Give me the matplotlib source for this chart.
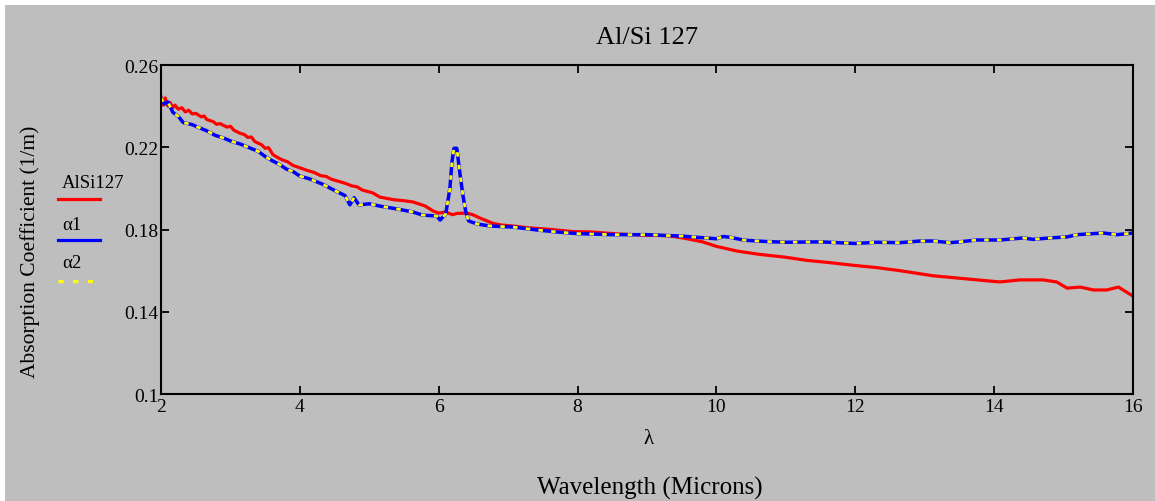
import matplotlib.pyplot as plt
from matplotlib.lines import Line2D
from matplotlib.patches import Rectangle

plt.rcParams['font.family'] = ['Liberation Serif', 'DejaVu Serif']

# AlSi127 measured absorption
alsi_x = [2.0, 2.03, 2.06, 2.1, 2.13, 2.17, 2.2, 2.25, 2.3, 2.35, 2.4, 2.45, 2.5, 2.58,
          2.62, 2.66, 2.75, 2.8, 2.85, 2.95, 3.0, 3.05, 3.14, 3.2, 3.25, 3.3, 3.35, 3.45,
          3.5, 3.55, 3.61, 3.68, 3.75, 3.82, 3.9, 4.0, 4.1, 4.2, 4.3, 4.38, 4.45, 4.58,
          4.65, 4.75, 4.82, 4.9, 5.05, 5.15, 5.35, 5.5, 5.63, 5.8, 5.92, 6.0, 6.1, 6.2,
          6.26, 6.4, 6.49, 6.6, 6.78, 6.9, 7.07, 7.3, 7.56, 7.93, 8.2, 8.6, 9.0, 9.3, 9.5,
          9.8, 10.0, 10.3, 10.6, 11.0, 11.3, 11.6, 12.0, 12.3, 12.64, 13.12, 13.6, 14.08,
          14.37, 14.7, 14.9, 15.05, 15.24, 15.43, 15.62, 15.79, 15.98]
alsi_y = [0.2445, 0.2405, 0.2440, 0.2400, 0.2418, 0.2392, 0.2405, 0.2385, 0.2392, 0.2372,
          0.2380, 0.2362, 0.2365, 0.2348, 0.2352, 0.2335, 0.2325, 0.2312, 0.2315, 0.2298,
          0.2302, 0.2283, 0.2268, 0.2262, 0.2248, 0.2250, 0.2228, 0.2212, 0.2195, 0.2198,
          0.2165, 0.2150, 0.2138, 0.2130, 0.2112, 0.2100, 0.2088, 0.2078, 0.2062, 0.2058,
          0.2045, 0.2032, 0.2025, 0.2012, 0.2008, 0.1992, 0.1978, 0.1958, 0.1945, 0.1940,
          0.1934, 0.1915, 0.1890, 0.1880, 0.1885, 0.1872, 0.1878, 0.1880, 0.1872, 0.1855,
          0.1830, 0.1822, 0.1817, 0.1808, 0.1802, 0.1790, 0.1788, 0.1778, 0.1772, 0.1770,
          0.1760, 0.1740, 0.1718, 0.1695, 0.1680, 0.1665, 0.1650, 0.1640, 0.1625, 0.1615,
          0.1600, 0.1575, 0.1560, 0.1545, 0.1555, 0.1555, 0.1545, 0.1515, 0.1520, 0.1506,
          0.1506, 0.1520, 0.1480]

# model curves (alpha2 sits right on top of alpha1)
a_x = [2.0, 2.05, 2.1, 2.17, 2.25, 2.32, 2.45, 2.55, 2.66, 2.78, 2.9, 3.02, 3.14, 3.27,
       3.4, 3.5, 3.61, 3.7, 3.8, 3.9, 4.0, 4.15, 4.33, 4.5, 4.65, 4.72, 4.78, 4.85, 5.0,
       5.15, 5.4, 5.63, 5.77, 5.97, 6.02, 6.1, 6.16, 6.19, 6.22, 6.26, 6.31, 6.35, 6.39,
       6.43, 6.55, 6.74, 7.07, 7.41, 7.7, 8.0, 8.5, 9.0, 9.5, 10.0, 10.1, 10.2, 10.4,
       10.7, 11.0, 11.5, 12.0, 12.3, 12.64, 12.93, 13.12, 13.36, 13.5, 13.75, 14.08,
       14.42, 14.56, 14.8, 15.05, 15.19, 15.57, 15.77, 16.0]
a1_y = [0.244, 0.241, 0.242, 0.237, 0.235, 0.232, 0.231, 0.2295, 0.228, 0.2258, 0.2245,
        0.2228, 0.2216, 0.2198, 0.218, 0.2155, 0.2133, 0.2118, 0.2095, 0.2082, 0.206,
        0.2045, 0.202, 0.199, 0.1965, 0.192, 0.1955, 0.192, 0.1925, 0.1914, 0.190,
        0.1885, 0.187, 0.1866, 0.1846, 0.1875, 0.1997, 0.2128, 0.2195, 0.2195, 0.206,
        0.1963, 0.1885, 0.1842, 0.1827, 0.1817, 0.1812, 0.1798, 0.1788, 0.178, 0.1775,
        0.1775, 0.1768, 0.1755, 0.1766, 0.1762, 0.1748, 0.1742, 0.1738, 0.174, 0.1732,
        0.1738, 0.1736, 0.1744, 0.1744, 0.1736, 0.174, 0.1749, 0.1749, 0.1759, 0.1752,
        0.1759, 0.1764, 0.1775, 0.1783, 0.1775, 0.1783]
a2_y = list(a1_y)

x_ticks = [2, 4, 6, 8, 10, 12, 14, 16]
y_ticks = [0.1, 0.14, 0.18, 0.22, 0.26]
y_labels = ['0.1', '0.14', '0.18', '0.22', '0.26']

bg = '#BEBEBE'
fig = plt.figure(figsize=(11.55, 5.02), dpi=100)
fig.patch.set_facecolor('white')
fig.patches.append(Rectangle((5 / 1155, 0), 1, 1 - 6 / 502, transform=fig.transFigure,
                             facecolor=bg, edgecolor='none', zorder=-10))

ax = fig.add_axes([0.1394, 0.2131, 0.8416, 0.6554])
ax.set_facecolor(bg)

ax.plot(alsi_x, alsi_y, color='#FF0000', lw=2.3, solid_joinstyle='round')
ax.plot(a_x, a1_y, color='#0000FF', lw=2.5, solid_joinstyle='round')
ax.plot(a_x, a2_y, color='#FFFF00', lw=2.0, dashes=(1.6, 3.0))

ax.set_xlim(2, 16)
ax.set_ylim(0.1, 0.26)
ax.set_xticks(x_ticks)
ax.set_xticklabels([str(t) for t in x_ticks])
ax.set_yticks(y_ticks)
ax.set_yticklabels(y_labels)
ax.tick_params(direction='in', length=6, width=1.3, top=True, right=True,
               labelsize=14, pad=3, colors='black')
ax.tick_params(axis='y', pad=2)
for s in ax.spines.values():
    s.set_linewidth(1.5)

fig.text(0.5605, 1 - 38 / 502, 'Al/Si 127', ha='center', va='center', fontsize=19)
fig.text(0.5615, 1 - 440 / 502, 'λ', ha='center', va='center', fontsize=15)
fig.text(0.5627, 1 - 488 / 502, 'Wavelength (Microns)', ha='center', va='center',
         fontsize=18)
fig.text(0.026, 1 - 252 / 502, 'Absorption Coefficient (1/m)', ha='center', va='center',
         rotation=90, fontsize=15.5)

# legend: label above a short line sample
items = [('AlSi127', '#FF0000', 183, 200, None),
         ('α1', '#0000FF', 225, 241, None),
         ('α2', '#FFFF00', 263, 282, (1.6, 3.0))]
for label, col, ty, ly, dash in items:
    fig.text(62 / 1155, 1 - ty / 502, label, ha='left', va='center', fontsize=13.5)
    ln = Line2D([58 / 1155, 100 / 1155], [1 - ly / 502, 1 - ly / 502],
                transform=fig.transFigure, color=col, lw=2.3)
    if dash:
        ln.set_dashes(dash)
    fig.add_artist(ln)

plt.savefig('out.png', dpi=100, facecolor=fig.get_facecolor())
